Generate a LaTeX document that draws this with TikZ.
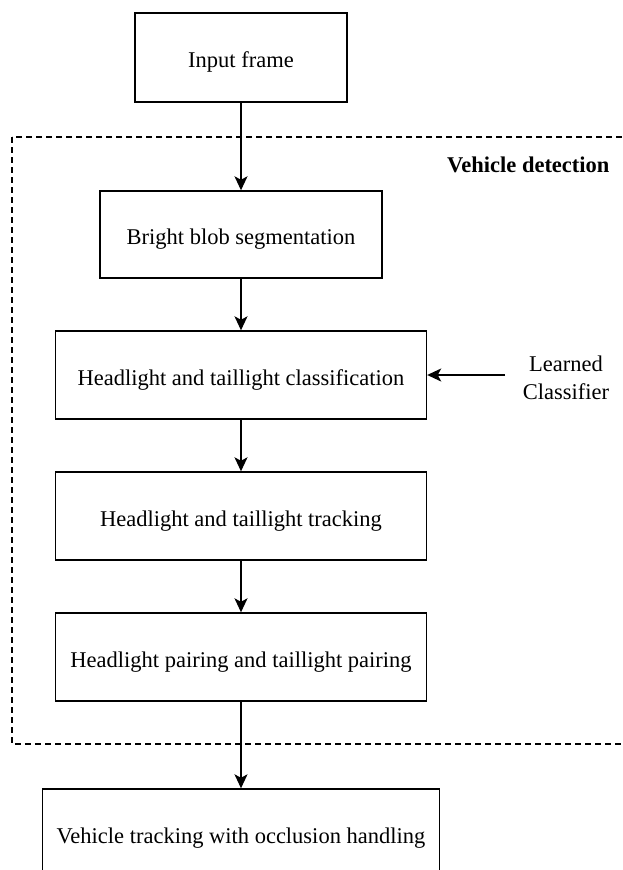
\documentclass[tikz,border=0pt]{standalone}
\usepackage{fontspec}
\setmainfont{Liberation Serif}
\usetikzlibrary{arrows.meta}
\begin{document}
\begin{tikzpicture}[x=1pt,y=1pt,
  box/.style={draw, line width=1.4pt, minimum height=88pt, inner sep=0pt, text height=20pt, text depth=0pt, font=\fontsize{22.5}{27}\selectfont},
  arr/.style={line width=1.5pt, -{Stealth[length=14pt,width=13pt,inset=3.5pt]}},
  lbl/.style={font=\fontsize{22.5}{28}\selectfont, align=center}]
\clip (0,0) rectangle (622,-870);
\fill[white] (0,0) rectangle (622,-870);
\draw[dashed, line width=1.2pt, dash pattern=on 6pt off 4pt] (12,-137) rectangle (640,-744);
\node[font=\bfseries\fontsize{22.5}{27}\selectfont, anchor=east] (vd) at (613,-165) {Vehicle detection};
\node[box, minimum width=212pt, minimum height=89pt] (in) at (241,-57.5) {Input frame};
\node[box, minimum width=282pt, minimum height=87pt] (bb) at (241,-234.5) {Bright blob segmentation};
\node[box, minimum width=371pt] (cl) at (241,-375) {Headlight and taillight classification};
\node[box, minimum width=371pt] (tr) at (241,-516) {Headlight and taillight tracking};
\node[box, minimum width=371pt] (pa) at (241,-657) {Headlight pairing and taillight pairing};
\node[box, minimum width=397pt] (vt) at (241,-833) {Vehicle tracking with occlusion handling};
\node[lbl] (lc) at (566,-378) {Learned\\Classifier};
\coordinate (lcs) at (505,-375);
\draw[arr] (in.south) -- (bb.north);
\draw[arr] (bb.south) -- (cl.north);
\draw[arr] (cl.south) -- (tr.north);
\draw[arr] (tr.south) -- (pa.north);
\draw[arr] (pa.south) -- (vt.north);
\draw[arr] (lcs) -- (cl.east);
\end{tikzpicture}
\end{document}
